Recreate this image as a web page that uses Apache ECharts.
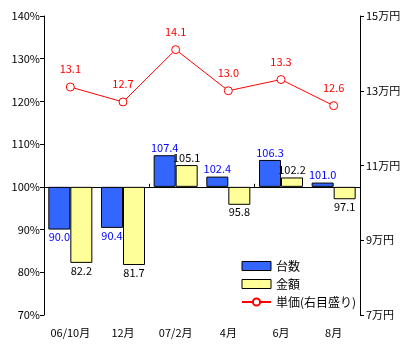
<!DOCTYPE html>
<html><head><meta charset="utf-8">
<script src="https://cdn.jsdelivr.net/npm/echarts@6/dist/echarts.min.js"></script>
<style>html,body{margin:0;padding:0;background:#fff}#c{width:415px;height:348px}</style>
</head><body><div id="c"></div>
<script>
var categories = ['06/10月', '12月', '07/2月', '4月', '6月', '8月'];
var unitsPct = [90.0, 90.4, 107.4, 102.4, 106.3, 101.0];
var amountPct = [82.2, 81.7, 105.1, 95.8, 102.2, 97.1];
var unitPrice = [13.1, 12.7, 14.1, 13.0, 13.3, 12.6];
var BASE = 100;
var FONT = '"Noto Sans CJK JP", sans-serif';

function barData(arr, color) {
  return arr.map(function (v) {
    return {
      value: +(v - BASE).toFixed(1),
      orig: v,
      label: { position: v >= BASE ? 'top' : 'bottom', color: color }
    };
  });
}

var chart = echarts.init(document.getElementById('c'));
chart.setOption({
  animation: false,
  textStyle: { fontFamily: FONT },
  grid: { left: 44, right: 55, top: 16, bottom: 33 },
  legend: {
    orient: 'vertical', left: 236, top: 255, itemGap: 6,
    itemWidth: 29, itemHeight: 9,
    textStyle: { fontFamily: FONT, fontSize: 12, color: '#000' },
    data: [
      { name: '台数', icon: 'rect', itemStyle: { borderColor: '#000', borderWidth: 1 } },
      { name: '金額', icon: 'rect', itemStyle: { borderColor: '#000', borderWidth: 1 } },
      { name: '単価(右目盛り)' }
    ]
  },
  xAxis: [
    {
      type: 'category', data: categories, position: 'bottom',
      axisLine: { show: false, onZero: false }, axisTick: { show: false },
      axisLabel: { margin: 12, fontSize: 11, color: '#000', fontFamily: FONT }
    },
    {
      type: 'category', data: categories, position: 'bottom',
      axisLine: { show: true, onZero: true, lineStyle: { color: '#000', width: 1 } },
      axisTick: { show: true, inside: true, length: 3, lineStyle: { color: '#000' } },
      axisLabel: { show: false }
    }
  ],
  yAxis: [
    {
      type: 'value', min: -30, max: 40, interval: 10,
      axisLine: { show: true, lineStyle: { color: '#000' } },
      axisTick: { show: true, length: 4, lineStyle: { color: '#000' } },
      splitLine: { show: false },
      axisLabel: { margin: 4, fontSize: 11, color: '#000', fontFamily: FONT,
        formatter: function (v) { return (v + BASE) + '%'; } }
    },
    {
      type: 'value', min: 7, max: 15, interval: 2, position: 'right',
      axisLine: { show: true, lineStyle: { color: '#000' } },
      axisTick: { show: true, length: 4, lineStyle: { color: '#000' } },
      splitLine: { show: false },
      axisLabel: { margin: 6, fontSize: 11, color: '#000', fontFamily: FONT,
        formatter: '{value}万円' }
    }
  ],
  series: [
    {
      name: '台数', type: 'bar', xAxisIndex: 0, yAxisIndex: 0,
      barWidth: 22, barGap: '0%',
      itemStyle: { color: '#3366FF', borderColor: '#000', borderWidth: 1 },
      label: { show: true, fontSize: 11, fontFamily: FONT, distance: 2,
        formatter: function (p) { return p.data.orig.toFixed(1); } },
      data: barData(unitsPct, '#0000FF')
    },
    {
      name: '金額', type: 'bar', xAxisIndex: 0, yAxisIndex: 0,
      barWidth: 22, barGap: '0%',
      itemStyle: { color: '#FFFF99', borderColor: '#000', borderWidth: 1 },
      label: { show: true, fontSize: 11, fontFamily: FONT, distance: 2,
        formatter: function (p) { return p.data.orig.toFixed(1); } },
      data: barData(amountPct, '#000')
    },
    {
      name: '単価(右目盛り)', type: 'line', xAxisIndex: 0, yAxisIndex: 1,
      symbol: 'circle', symbolSize: 8,
      lineStyle: { color: '#FF0000', width: 1 },
      itemStyle: { color: '#fff', borderColor: '#FF0000', borderWidth: 1 },
      label: { show: true, position: 'top', distance: 8, color: '#FF0000', fontSize: 11, fontFamily: FONT,
        formatter: function (p) { return p.value.toFixed(1); } },
      data: unitPrice
    }
  ]
});
</script></body></html>
